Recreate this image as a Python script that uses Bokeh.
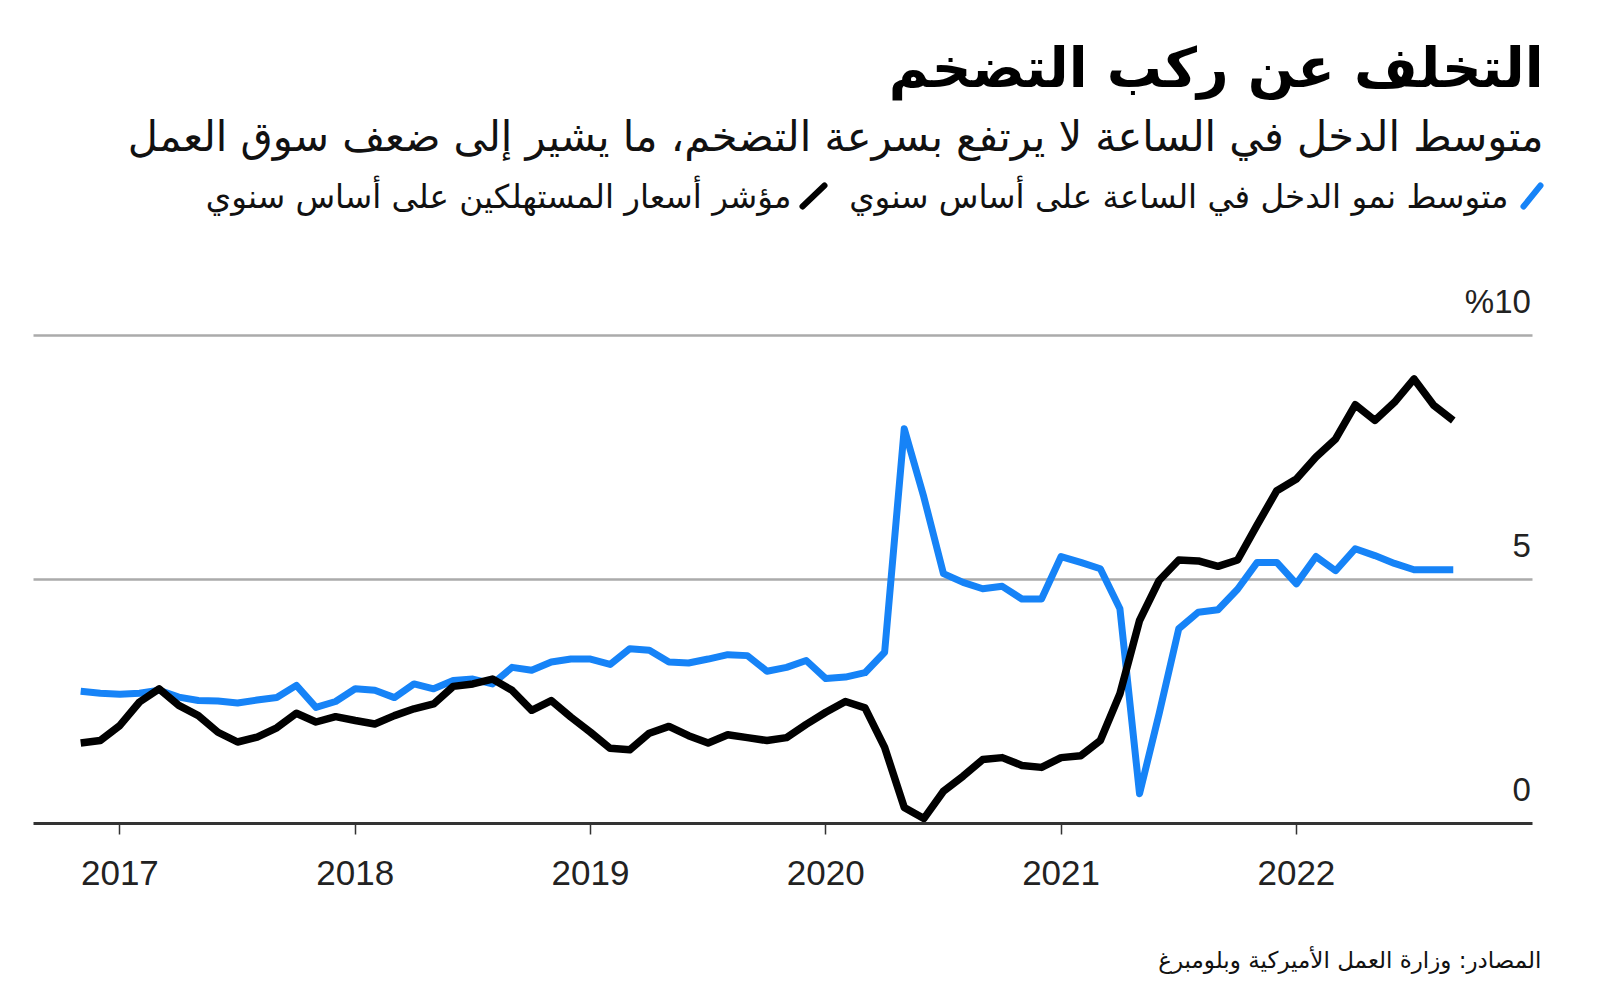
from bokeh.plotting import figure
from bokeh.models import Range1d, FixedTicker, Label, PolyAnnotation, ColumnDataSource
from bokeh.embed import file_html
from bokeh.resources import INLINE

# ---------------- data ----------------
start_year, start_month, n_months = 2016, 10, 71
months = []
for i in range(n_months):
    mm = start_month - 1 + i
    months.append(f"{start_year + mm // 12}-{mm % 12 + 1:02d}")

cpi = [1.65, 1.70, 2.01,
       2.49, 2.76, 2.42, 2.21, 1.87, 1.67, 1.77, 1.96, 2.26, 2.08, 2.19, 2.11,
       2.04, 2.21, 2.35, 2.45, 2.81, 2.86, 2.96, 2.73, 2.32, 2.52, 2.18, 1.87,
       1.54, 1.51, 1.85, 1.99, 1.80, 1.65, 1.82, 1.76, 1.70, 1.76, 2.03, 2.28,
       2.50, 2.37, 1.56, 0.33, 0.10, 0.66, 0.97, 1.31, 1.35, 1.19, 1.15, 1.35,
       1.39, 1.70, 2.66, 4.16, 4.98, 5.40, 5.38, 5.27, 5.40, 6.12, 6.82, 7.06,
       7.51, 7.88, 8.58, 8.26, 8.63, 9.11, 8.57, 8.26]

wages = [2.71, 2.67, 2.65,
         2.67, 2.73, 2.59, 2.52, 2.51, 2.47, 2.53, 2.58, 2.83, 2.38, 2.50, 2.76,
         2.73, 2.58, 2.86, 2.76, 2.93, 2.96, 2.86, 3.20, 3.14, 3.31, 3.37, 3.37,
         3.26, 3.58, 3.55, 3.31, 3.29, 3.37, 3.46, 3.44, 3.12, 3.20, 3.34, 2.97,
         3.00, 3.09, 3.51, 8.09, 6.69, 5.12, 4.94, 4.81, 4.86, 4.60, 4.60, 5.47,
         5.35, 5.22, 4.40, 0.61, 2.25, 3.99, 4.33, 4.38, 4.80, 5.35, 5.35, 4.91,
         5.47, 5.18, 5.63, 5.49, 5.33, 5.20, 5.20, 5.20]

years = [2017, 2018, 2019, 2020, 2021, 2022]
grid_values = [5, 10]
value_ticks = [0, 5, 10]
value_labels = ["0", "5", "%10"]

title = "التخلف عن ركب التضخم"
subtitle = "متوسط الدخل في الساعة لا يرتفع بسرعة التضخم، ما يشير إلى ضعف سوق العمل"
legend_wages = "متوسط نمو الدخل في الساعة على أساس سنوي"
legend_cpi = "مؤشر أسعار المستهلكين على أساس سنوي"
source_note = "المصادر: وزارة العمل الأميركية وبلومبرغ"

BLUE = "#1683f7"
BLACK = "#000000"
ARABIC_FONT = "DejaVu Sans"
NUM_FONT = "Liberation Sans"

W, H = 1600, 990
# visible plotting span (axis line / grid lines)
X_LO, X_HI = 2016.633, 2023.005
# canvas-wide data ranges (frame spans the whole canvas)
PX_PER_YEAR = 235.3
PX_PER_UNIT = 48.8
X0_PX, Y0_PX = 119.4, 823      # pixel of 2017 / of value 0
x_range = Range1d(2017 - X0_PX / PX_PER_YEAR, 2017 + (W - X0_PX) / PX_PER_YEAR)
y_range = Range1d(-(H - Y0_PX) / PX_PER_UNIT, Y0_PX / PX_PER_UNIT)

# x position: end of each month
x = [int(m[:4]) + int(m[5:]) / 12 for m in months]
src = ColumnDataSource(dict(x=x, cpi=cpi, wages=wages))

p = figure(width=W, height=H, output_backend="svg", toolbar_location=None,
           x_range=x_range, y_range=y_range,
           min_border_left=0, min_border_right=0, min_border_top=0,
           min_border_bottom=0, y_axis_location=None)
p.outline_line_color = None
p.background_fill_color = "white"
p.border_fill_color = "white"
p.xgrid.visible = False
p.ygrid.ticker = FixedTicker(ticks=grid_values)
p.ygrid.grid_line_color = "#ababab"
p.ygrid.grid_line_width = 2.5
p.ygrid.cross_bounds = (X_LO, X_HI)

ax = p.xaxis[0]
ax.fixed_location = 0
ax.bounds = (X_LO, X_HI)
ax.ticker = FixedTicker(ticks=years)
ax.major_label_text_font = NUM_FONT
ax.major_label_text_font_size = "35px"
ax.major_label_text_color = "#222222"
ax.axis_line_width = 3
ax.axis_line_color = "#333333"
ax.major_tick_out = 11
ax.major_tick_in = 0
ax.major_tick_line_width = 1.5
ax.major_tick_line_color = "#333333"
ax.minor_tick_line_color = None
ax.major_label_standoff = 26

p.line("x", "wages", source=src, line_color=BLUE, line_width=7, line_join="round")
p.line("x", "cpi", source=src, line_color=BLACK, line_width=7.5, line_join="round")

for v, t in zip(value_ticks, value_labels):
    p.add_layout(Label(x=X_HI, y=v, text=t, text_align="right",
                       text_baseline="alphabetic", y_offset=34, x_offset=-2,
                       text_font=NUM_FONT, text_font_size="33px", text_color="#222222"))

def screen_label(X, Y, text, size, bold=False, color="#111111"):
    # X, Y: canvas pixel position (from top-left) of the right end / vertical middle
    p.add_layout(Label(x=X, y=H - Y, x_units="screen", y_units="screen", text=text,
                       text_align="right", text_baseline="middle",
                       text_font=ARABIC_FONT, text_font_style="bold" if bold else "normal",
                       text_font_size=size, text_color=color))

screen_label(1543, 67, title, "55px", bold=True, color="#000000")
screen_label(1543, 136, subtitle, "41.5px")
screen_label(1508, 196, legend_wages, "32.5px")
screen_label(791, 196, legend_cpi, "32.5px")
screen_label(1541, 959, source_note, "23px")

def slash(X0, Y0, X1, Y1, color):
    p.add_layout(PolyAnnotation(xs=[X0, X1], ys=[H - Y0, H - Y1], xs_units="screen", ys_units="screen",
                                line_color=color, line_alpha=1.0, line_width=6, line_cap="round",
                                fill_alpha=0))

slash(1523, 206, 1540, 185, BLUE)
slash(802, 206, 824, 185, BLACK)

open("out.html", "w").write(file_html(p, INLINE))
